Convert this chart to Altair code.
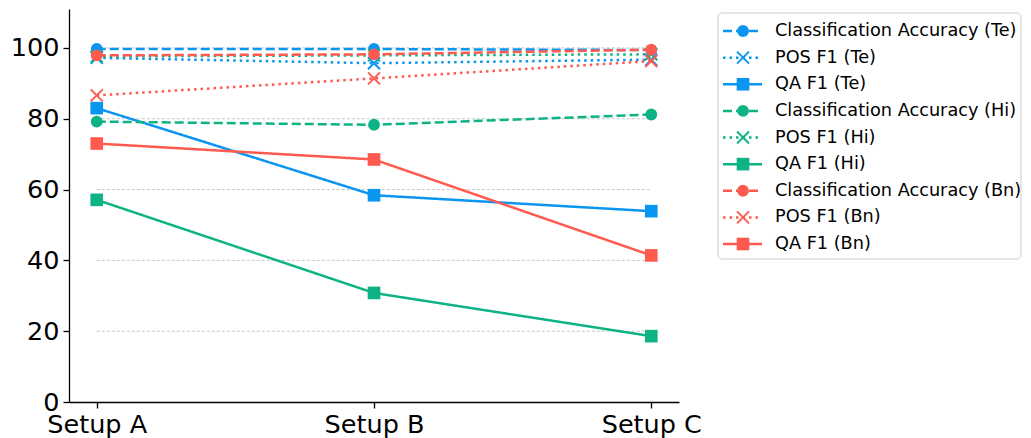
import altair as alt
import pandas as pd

setups = ["Setup A", "Setup B", "Setup C"]
series_names = [
    "Classification Accuracy (Te)", "POS F1 (Te)", "QA F1 (Te)",
    "Classification Accuracy (Hi)", "POS F1 (Hi)", "QA F1 (Hi)",
    "Classification Accuracy (Bn)", "POS F1 (Bn)", "QA F1 (Bn)",
]
te_class = [99.7, 99.7, 99.4]
te_pos = [97.2, 95.7, 96.7]
te_qa = [83.0, 58.4, 53.9]
hi_class = [79.2, 78.3, 81.2]
hi_pos = [97.6, 97.9, 98.2]
hi_qa = [57.1, 30.8, 18.6]
bn_class = [97.9, 98.2, 99.5]
bn_pos = [86.6, 91.4, 96.3]
bn_qa = [73.0, 68.5, 41.4]
all_values = [te_class, te_pos, te_qa, hi_class, hi_pos, hi_qa, bn_class, bn_pos, bn_qa]
grid_values = [20, 40, 60, 80, 100]
y_ticks = [0, 20, 40, 60, 80, 100]

BLUE, GREEN, RED = "#0a96f0", "#0db384", "#ff5a50"
colors = [BLUE] * 3 + [GREEN] * 3 + [RED] * 3
kinds = ["class", "pos", "qa"] * 3
dashes = {"class": [9, 4], "pos": [2.5, 4], "qa": [1, 0]}
XPATH = "M-1,-1L1,1M1,-1L-1,1"

rows = []
for name, vals in zip(series_names, all_values):
    for s, v in zip(setups, vals):
        rows.append({"series": name, "setup": s, "value": v})
df = pd.DataFrame(rows)

FONT = "DejaVu Sans"
W, H = 610, 393

xscale = alt.Scale(domain=setups, type="point", padding=0.1)
yscale = alt.Scale(domain=[0, 111], nice=False, zero=True)

grid_df = pd.DataFrame({"g": grid_values, "x1": ["Setup A"] * 5, "x2": ["Setup C"] * 5})
grid = alt.Chart(grid_df).mark_rule(color="#b8b8b8", strokeWidth=0.8, strokeDash=[3, 2]).encode(
    x=alt.X("x1:N", scale=xscale, sort=setups,
            axis=alt.Axis(title=None, labelFontSize=25.5, labelFont=FONT, labelColor="black",
                          labelAngle=0, tickSize=6, tickColor="black", tickWidth=1.3,
                          domainColor="black", domainWidth=1.3, labelPadding=4, grid=False)),
    x2="x2:N",
    y=alt.Y("g:Q", scale=yscale,
            axis=alt.Axis(title=None, values=y_ticks, labelFontSize=25.5, labelFont=FONT,
                          labelColor="black", tickSize=6, tickColor="black", tickWidth=1.3,
                          domainColor="black", domainWidth=1.3, labelPadding=4, grid=False,
                          minExtent=60, maxExtent=60)),
)

layers = [grid]
for name, col, kind in zip(series_names, colors, kinds):
    base = alt.Chart(df).transform_filter(alt.datum.series == name).encode(
        x=alt.X("setup:N", scale=xscale, sort=setups),
        y=alt.Y("value:Q", scale=yscale),
    )
    line = base.mark_line(color=col, strokeWidth=2.5, strokeDash=dashes[kind])
    if kind == "class":
        pt = base.mark_point(shape="circle", filled=True, size=140, color=col, opacity=1)
    elif kind == "qa":
        pt = base.mark_point(shape="square", filled=True, size=160, color=col, opacity=1)
    else:
        pt = base.mark_point(shape=XPATH, filled=False, size=144, color=col, strokeWidth=2, opacity=1)
    layers += [line, pt]

main = alt.layer(*layers).properties(width=W, height=H)

# legend panel
leg_df = pd.DataFrame({"series": series_names, "col": colors, "kind": kinds})
ly = alt.Y("series:N", scale=alt.Scale(type="point", domain=series_names, range=[22, 235], padding=0), axis=None)
box = alt.Chart(pd.DataFrame({"a": [0]})).mark_rect(
    fill="white", stroke="#cccccc", strokeWidth=1, cornerRadius=4
).encode(x=alt.value(0), x2=alt.value(303), y=alt.value(4), y2=alt.value(250))
leg_layers = [box]
for name, col, kind in zip(series_names, colors, kinds):
    b = alt.Chart(leg_df).transform_filter(alt.datum.series == name)
    seg = b.mark_rule(color=col, strokeWidth=2.5, strokeDash=dashes[kind]).encode(
        x=alt.value(5), x2=alt.value(44), y=ly)
    if kind == "class":
        p = b.mark_point(shape="circle", filled=True, size=140, color=col, opacity=1)
    elif kind == "qa":
        p = b.mark_point(shape="square", filled=True, size=160, color=col, opacity=1)
    else:
        p = b.mark_point(shape=XPATH, filled=False, size=144, color=col, strokeWidth=2, opacity=1)
    p = p.encode(x=alt.value(25), y=ly)
    leg_layers += [seg, p]
txt = alt.Chart(leg_df).mark_text(align="left", baseline="middle", fontSize=17.7, font=FONT, color="black").encode(
    x=alt.value(57), y=ly, text="series:N")
leg_layers.append(txt)
legend = alt.layer(*leg_layers).properties(width=290, height=H)

chart = alt.hconcat(main, legend, spacing=39, bounds="flush").properties(
    padding=0
).configure_view(stroke="transparent")

chart.save("out.html", embed_options={"renderer": "svg", "actions": False})
